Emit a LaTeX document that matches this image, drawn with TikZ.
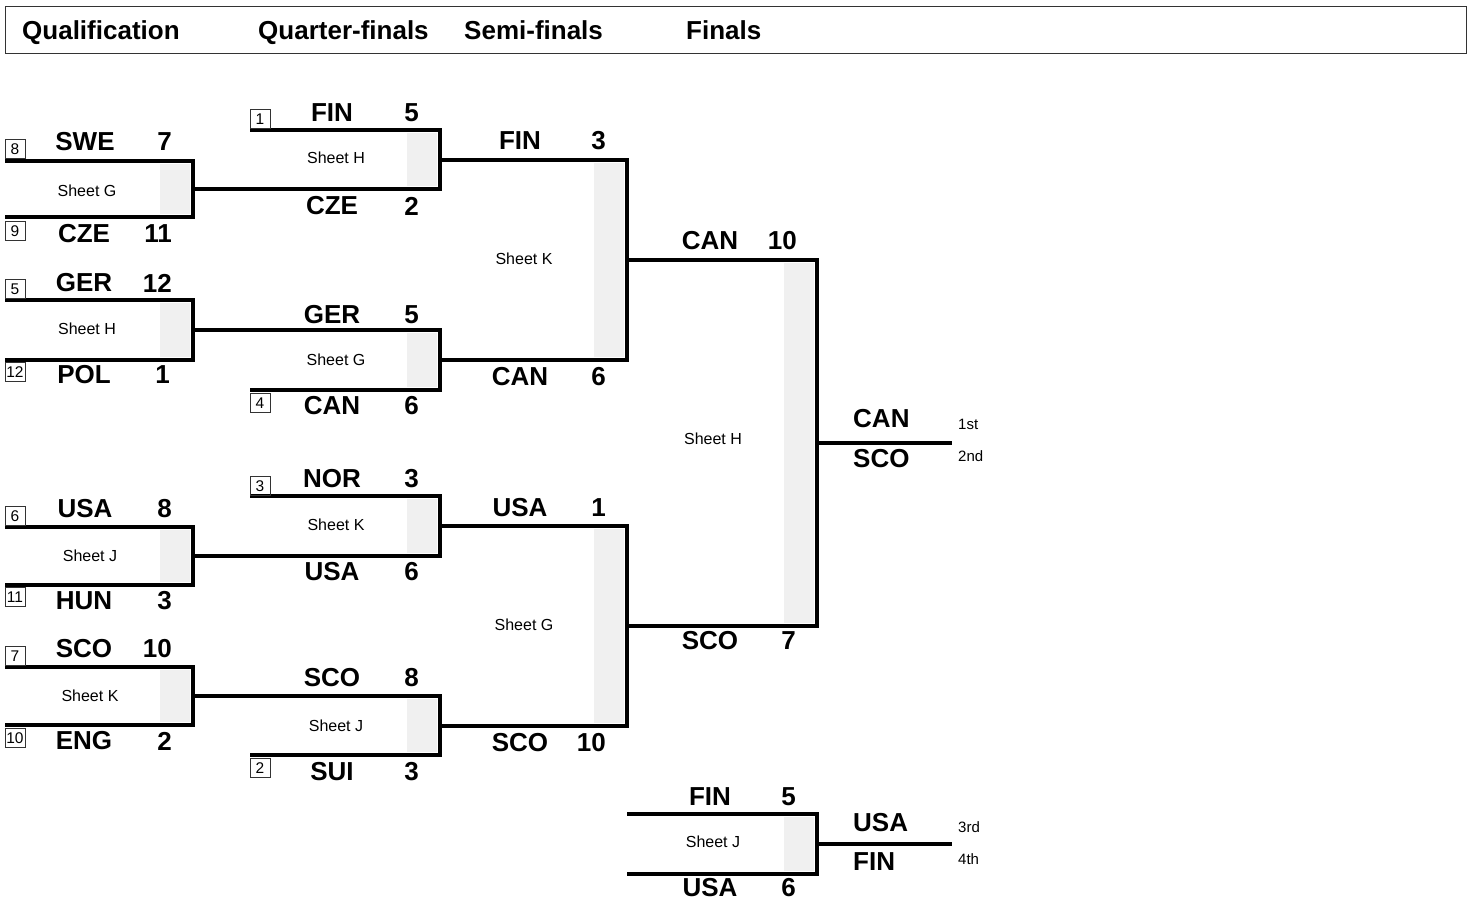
\documentclass[tikz,border=0pt]{standalone}
\usepackage{fontspec}
\setmainfont{Liberation Sans}
\usetikzlibrary{calc}
\definecolor{sheetgrey}{HTML}{F0F0F0}
\definecolor{boxline}{HTML}{333333}
\tikzset{
  bline/.style={line width=3.2pt, line join=miter},
  team/.style={font=\fontsize{26}{30}\selectfont\bfseries, inner sep=0pt},
  score/.style={team, anchor=east},
  champ/.style={team, anchor=west},
  sheet/.style={font=\fontsize{16}{19}\selectfont, inner sep=0pt},
  seed/.style={draw=boxline, line width=1pt, minimum width=20pt, minimum height=19pt, inner sep=0pt, font=\fontsize{15.5}{17}\selectfont},
  place/.style={font=\fontsize{15}{18}\selectfont, anchor=west, inner sep=0pt},
  head/.style={font=\fontsize{26}{30}\selectfont\bfseries, anchor=base west, inner sep=0pt},
}
\newcommand{\mybracket}[5]{%
  \coordinate (#1-tl) at (#2,#4);
  \coordinate (#1-tr) at (#3,#4);
  \coordinate (#1-br) at (#3,#5);
  \coordinate (#1-bl) at (#2,#5);
  \coordinate (#1-out) at ($(#1-tr)!0.5!(#1-br)$);
  \fill[sheetgrey] ($(#1-tr)+(-33,3)$) rectangle ($(#1-br)+(-3,-3)$);
  \draw[bline] (#1-tl) -- (#1-tr) -- (#1-br) -- (#1-bl);
}
\begin{document}
\begin{tikzpicture}[x=1pt,y=-1pt]
\useasboundingbox (0,0) rectangle (1473,901);
% header
\node[draw=boxline, line width=1.2pt, minimum width=1461pt, minimum height=47pt, anchor=north west, inner sep=0pt] (header) at (5,6) {};
\node[head] (hq) at (22,39.5) {Qualification};
\node[head] (hqf) at (258,39.5) {Quarter-finals};
\node[head] (hsf) at (464,39.5) {Semi-finals};
\node[head] (hf) at (686,39.5) {Finals};

% brackets
\mybracket{q1}{5}{193}{161}{217}
\mybracket{q2}{5}{193}{300}{360}
\mybracket{q3}{5}{193}{527}{585}
\mybracket{q4}{5}{193}{667}{725}
\mybracket{qf1}{250}{440}{130}{189}
\mybracket{qf2}{250}{440}{330}{390}
\mybracket{qf3}{250}{440}{496}{556}
\mybracket{qf4}{250}{440}{696}{755}
\mybracket{sf1}{440}{627}{160}{360}
\mybracket{sf2}{440}{627}{526}{726}
\mybracket{fin}{627}{817}{260}{626}
\mybracket{brz}{627}{817}{814}{874}

% connectors
\draw[bline] (q1-out) -- (qf1-bl);
\draw[bline] (q2-out) -- (qf2-tl);
\draw[bline] (q3-out) -- (qf3-bl);
\draw[bline] (q4-out) -- (qf4-tl);
\draw[bline] (qf1-out) -- (sf1-tl);
\draw[bline] (qf2-out) -- (sf1-bl);
\draw[bline] (qf3-out) -- (sf2-tl);
\draw[bline] (qf4-out) -- (sf2-bl);
\draw[bline] (sf1-out) -- (fin-tl);
\draw[bline] (sf2-out) -- (fin-bl);
\coordinate (finend) at (952,443);
\draw[bline] (fin-out) -- (finend);
\coordinate (brzend) at (952,844);
\draw[bline] (brz-out) -- (brzend);

% qualification
\node[team] (q1a) at (85,142) {SWE};  \node[score] (q1as) at (172,142) {7};
\node[team] (q1b) at (84,234) {CZE};  \node[score] (q1bs) at (172,234) {11};
\node[seed] (s8) at (15,149) {8};     \node[seed] (s9) at (15,231) {9};
\node[sheet] (q1s) at (87,191) {Sheet G};

\node[team] (q2a) at (84,283) {GER};  \node[score] (q2as) at (172,283) {12};
\node[team] (q2b) at (84,375) {POL};  \node[score] (q2bs) at (170,375) {1};
\node[seed] (s5) at (15,289) {5};     \node[seed] (s12) at (15,372) {12};
\node[sheet] (q2s) at (87,329) {Sheet H};

\node[team] (q3a) at (85,509) {USA};  \node[score] (q3as) at (172,509) {8};
\node[team] (q3b) at (84,601) {HUN};  \node[score] (q3bs) at (172,601) {3};
\node[seed] (s6) at (15,516) {6};     \node[seed] (s11) at (15,597) {11};
\node[sheet] (q3s) at (90,556) {Sheet J};

\node[team] (q4a) at (84,649) {SCO};  \node[score] (q4as) at (172,649) {10};
\node[team] (q4b) at (84,741) {ENG};  \node[score] (q4bs) at (172,741) {2};
\node[seed] (s7) at (15,656) {7};     \node[seed] (s10) at (15,738) {10};
\node[sheet] (q4s) at (90,696) {Sheet K};

% quarter-finals
\node[team] (qf1a) at (332,113) {FIN}; \node[score] (qf1as) at (419,113) {5};
\node[team] (qf1b) at (332,206) {CZE}; \node[score] (qf1bs) at (419,206) {2};
\node[seed] (s1) at (260,119) {1};
\node[sheet] (qf1s) at (336,158) {Sheet H};

\node[team] (qf2a) at (332,315) {GER}; \node[score] (qf2as) at (419,315) {5};
\node[team] (qf2b) at (332,406) {CAN}; \node[score] (qf2bs) at (419,406) {6};
\node[seed] (s4) at (260,403) {4};
\node[sheet] (qf2s) at (336,360) {Sheet G};

\node[team] (qf3a) at (332,479) {NOR}; \node[score] (qf3as) at (419,479) {3};
\node[team] (qf3b) at (332,572) {USA}; \node[score] (qf3bs) at (419,572) {6};
\node[seed] (s3) at (260,486) {3};
\node[sheet] (qf3s) at (336,525) {Sheet K};

\node[team] (qf4a) at (332,678) {SCO}; \node[score] (qf4as) at (419,678) {8};
\node[team] (qf4b) at (332,772) {SUI}; \node[score] (qf4bs) at (419,772) {3};
\node[seed] (s2) at (260,768) {2};
\node[sheet] (qf4s) at (336,726) {Sheet J};

% semi-finals
\node[team] (sf1a) at (520,141) {FIN}; \node[score] (sf1as) at (606,141) {3};
\node[team] (sf1b) at (520,377) {CAN}; \node[score] (sf1bs) at (606,377) {6};
\node[sheet] (sf1s) at (524,259) {Sheet K};

\node[team] (sf2a) at (520,508) {USA}; \node[score] (sf2as) at (606,508) {1};
\node[team] (sf2b) at (520,743) {SCO}; \node[score] (sf2bs) at (606,743) {10};
\node[sheet] (sf2s) at (524,625) {Sheet G};

% final
\node[team] (fa) at (710,241) {CAN}; \node[score] (fas) at (797,241) {10};
\node[team] (fb) at (710,641) {SCO}; \node[score] (fbs) at (796,641) {7};
\node[sheet] (fs) at (713,439) {Sheet H};
\node[champ] (c1) at (853,419) {CAN}; \node[place] (p1) at (958,424) {1st};
\node[champ] (c2) at (853,459) {SCO}; \node[place] (p2) at (958,456) {2nd};

% bronze
\node[team] (ba) at (710,797) {FIN}; \node[score] (bas) at (796,797) {5};
\node[team] (bb) at (710,888) {USA}; \node[score] (bbs) at (796,888) {6};
\node[sheet] (bs) at (713,842) {Sheet J};
\node[champ] (c3) at (853,823) {USA}; \node[place] (p3) at (958,827) {3rd};
\node[champ] (c4) at (853,862) {FIN}; \node[place] (p4) at (958,859) {4th};
\end{tikzpicture}
\end{document}
